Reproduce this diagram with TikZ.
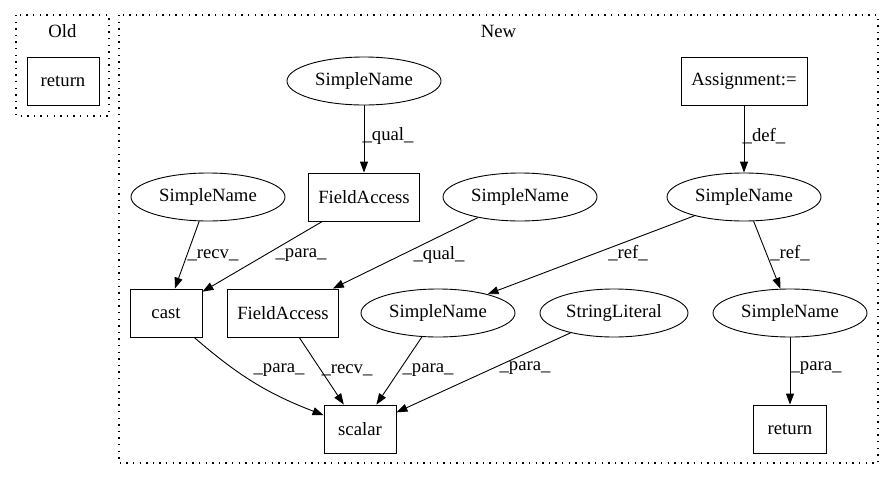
\documentclass[tikz,border=0pt]{standalone}
\usepackage{fontspec}
\setmainfont{Liberation Serif}
\usetikzlibrary{arrows.meta,shapes.geometric}
\tikzset{
  every node/.style={font=\fontsize{18.7}{20}\selectfont, inner sep=0pt},
  boxnode/.style={draw, line width=0.9pt, rectangle, minimum height=48pt},
  ellnode/.style={draw, line width=0.9pt, ellipse, minimum width=154pt, minimum height=48pt},
  edge/.style={draw, line width=0.9pt, -{Triangle[length=11pt,width=8pt]}},
  elabel/.style={anchor=center},
  cluster/.style={draw, line width=1.4pt, dash pattern=on 1.4pt off 5.2pt},
}
\begin{document}
\begin{tikzpicture}[x=1pt,y=-1pt]
\useasboundingbox (0,0) rectangle (895,480);
% clusters
\draw[cluster] (16,15) rectangle (109,116);
\node (oldlbl) at (62.5,31) {Old};
\draw[cluster] (119,15) rectangle (878,463);
\node (newlbl) at (498.5,31) {New};
% Old
\node[boxnode, minimum width=72pt] (oldret) at (63,81) {return};
% New nodes
\node[ellnode] (snq1) at (364,81) {SimpleName};
\node[boxnode, minimum width=111pt] (fa1) at (364,197) {FieldAccess};
\node[ellnode] (snrecv) at (208,197) {SimpleName};
\node[ellnode] (snq2) at (520,197) {SimpleName};
\node[boxnode, minimum width=126pt] (assign) at (744,81) {Assignment:=};
\node[ellnode] (sndef) at (744,197) {SimpleName};
\node[boxnode, minimum width=72pt] (cast) at (166,313) {cast};
\node[boxnode, minimum width=111pt] (fa2) at (283,313) {FieldAccess};
\node[ellnode] (snmid) at (438,313) {SimpleName};
\node[ellnode, minimum width=148pt] (strlit) at (614,313) {StringLiteral};
\node[ellnode] (snlow) at (790,313) {SimpleName};
\node[boxnode, minimum width=72pt] (scalar) at (360,429) {scalar};
\node[boxnode, minimum width=73pt] (newret) at (790,429) {return};
% edges
\draw[edge] (snq1) -- (fa1);
\node[elabel] (l1) at (388,136) {\_qual\_};
\draw[edge] (snrecv) -- (cast);
\node[elabel] (l2) at (213,255) {\_recv\_};
\draw[edge] (fa1) -- (cast);
\node[elabel] (l3) at (301,255) {\_para\_};
\draw[edge] (snq2) -- (fa2);
\node[elabel] (l4) at (439,255) {\_qual\_};
\draw[edge] (assign) -- (sndef);
\node[elabel] (l5) at (764,136) {\_def\_};
\draw[edge] (sndef) -- (snmid);
\node[elabel] (l6) at (628,253) {\_ref\_};
\draw[edge] (sndef) -- (snlow);
\node[elabel] (l7) at (790,253) {\_ref\_};
\draw[edge] (cast) to[bend right=10] (scalar);
\node[elabel] (l8) at (279,370) {\_para\_};
\draw[edge] (fa2) -- (scalar);
\node[elabel] (l9) at (347,370) {\_recv\_};
\draw[edge] (snmid) -- (scalar);
\node[elabel] (l10) at (428,370) {\_para\_};
\draw[edge] (strlit) -- (scalar);
\node[elabel] (l11) at (525,368) {\_para\_};
\draw[edge] (snlow) -- (newret);
\node[elabel] (l12) at (816,368) {\_para\_};
\end{tikzpicture}
\end{document}
